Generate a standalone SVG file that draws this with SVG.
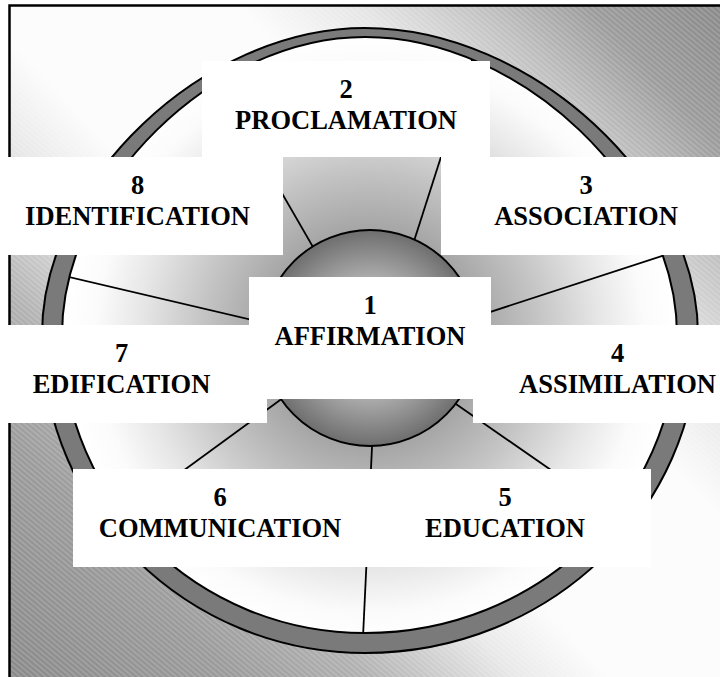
<svg xmlns="http://www.w3.org/2000/svg" width="720" height="677" viewBox="0 0 720 677">
  <style>
    .box { fill: #ffffff; }
    .lbl { font-weight: bold; font-size: 26.5px; fill: #000; text-anchor: middle; }
    .spoke { stroke: #000; stroke-width: 1.8; fill: none; }
  </style>
  <defs>
    <linearGradient id="bg" gradientUnits="userSpaceOnUse" x1="720" y1="0" x2="0" y2="677">
      <stop offset="0" stop-color="#888888"/>
      <stop offset="0.1" stop-color="#9a9a9a"/>
      <stop offset="0.18" stop-color="#c0c0c0"/>
      <stop offset="0.27" stop-color="#e5e5e5"/>
      <stop offset="0.36" stop-color="#fcfcfc"/>
      <stop offset="0.55" stop-color="#fcfcfc"/>
      <stop offset="0.62" stop-color="#e8e8e8"/>
      <stop offset="0.73" stop-color="#b0b0b0"/>
      <stop offset="0.83" stop-color="#9a9a9a"/>
      <stop offset="1" stop-color="#888888"/>
    </linearGradient>
    <pattern id="hatch" patternUnits="userSpaceOnUse" width="4" height="4" patternTransform="rotate(40)">
      <line x1="0" y1="1" x2="4" y2="1" stroke="#ffffff" stroke-opacity="0.3" stroke-width="1"/>
    </pattern>
    <radialGradient id="disk" gradientUnits="userSpaceOnUse" cx="370" cy="338" r="305">
      <stop offset="0" stop-color="#808080"/>
      <stop offset="0.36" stop-color="#a6a6a6"/>
      <stop offset="0.55" stop-color="#c4c4c4"/>
      <stop offset="0.75" stop-color="#e6e6e6"/>
      <stop offset="0.9" stop-color="#fbfbfb"/>
      <stop offset="1" stop-color="#ffffff"/>
    </radialGradient>
    <radialGradient id="sphere" gradientUnits="userSpaceOnUse" cx="370" cy="338" r="108">
      <stop offset="0" stop-color="#dcdcdc"/>
      <stop offset="0.5" stop-color="#b4b4b4"/>
      <stop offset="1" stop-color="#6e6e6e"/>
    </radialGradient>
    <path id="innerShape" d="M 62,335 C 62,186 213.5,37 365,37 C 521,37 677,186 677,335 C 677,500.5 537.3,633 365,633 C 197.7,633 62,500.5 62,335 Z"/>
    <clipPath id="innerClip">
      <use href="#innerShape"/>
    </clipPath>
  </defs>

  <!-- background frame -->
  <rect x="9.5" y="5.5" width="720" height="680" fill="url(#bg)" stroke="#000" stroke-width="2.5"/>
  <rect x="11" y="7" width="710" height="672" fill="url(#hatch)"/>

  <!-- inner disk -->
  <use id="disk-fill" href="#innerShape" fill="url(#disk)"/>

  <!-- connectors (spokes) -->
  <g id="spokes" clip-path="url(#innerClip)">
    <line class="spoke" x1="328" y1="273" x2="163" y2="-13"/>
    <line class="spoke" x1="402.5" y1="277" x2="515" y2="-74"/>
    <line class="spoke" x1="458.5" y1="322.3" x2="840" y2="198"/>
    <line class="spoke" x1="280.5" y1="326.6" x2="-102" y2="237"/>
    <line class="spoke" x1="298.6" y1="386.4" x2="1" y2="604"/>
    <line class="spoke" x1="434" y1="388.8" x2="738" y2="600"/>
    <line class="spoke" x1="373" y1="426" x2="354" y2="827"/>
  </g>

  <!-- center sphere -->
  <circle id="sphere-shape" cx="370" cy="338" r="108" fill="url(#sphere)" stroke="#000" stroke-width="2"/>

  <!-- ring -->
  <path id="ring" fill="#7a7a7a" fill-rule="evenodd" stroke="#000" stroke-width="2"
        d="M 42,335 C 42,181.5 203.5,28 365,28 C 531.5,28 698,181.5 698,335 C 698,510.6 548.9,653 365,653 C 186.6,653 42,510.6 42,335 Z
           M 62,335 C 62,186 213.5,37 365,37 C 521,37 677,186 677,335 C 677,500.5 537.3,633 365,633 C 197.7,633 62,500.5 62,335 Z"/>

  <!-- nodes -->
  <g font-family="Liberation Serif, DejaVu Serif, Times New Roman, serif">
  <g id="node2">
    <rect class="box" x="202" y="61" width="288" height="96"/>
    <text class="lbl" x="346" y="98">2</text>
    <text class="lbl" x="346" y="129">PROCLAMATION</text>
  </g>
  <g id="node8">
    <rect class="box" x="0" y="157" width="283" height="98"/>
    <text class="lbl" x="137.5" y="194">8</text>
    <text class="lbl" x="137.5" y="225">IDENTIFICATION</text>
  </g>
  <g id="node3">
    <rect class="box" x="441" y="157" width="279" height="98"/>
    <text class="lbl" x="586" y="194">3</text>
    <text class="lbl" x="586" y="225">ASSOCIATION</text>
  </g>
  <g id="node7">
    <rect class="box" x="0" y="325" width="267" height="98"/>
    <text class="lbl" x="121.5" y="362">7</text>
    <text class="lbl" x="121.5" y="393">EDIFICATION</text>
  </g>
  <g id="node4">
    <rect class="box" x="473" y="325" width="247" height="98"/>
    <text class="lbl" x="617.5" y="362">4</text>
    <text class="lbl" x="617.5" y="393">ASSIMILATION</text>
  </g>
  <g id="node1">
    <rect class="box" x="249" y="277" width="242" height="122"/>
    <text class="lbl" x="370" y="314">1</text>
    <text class="lbl" x="370" y="345">AFFIRMATION</text>
  </g>
  <g id="node6">
    <rect class="box" x="73" y="469" width="294" height="98"/>
    <text class="lbl" x="220" y="506">6</text>
    <text class="lbl" x="220" y="537">COMMUNICATION</text>
  </g>
  <g id="node5">
    <rect class="box" x="359" y="469" width="292" height="98"/>
    <text class="lbl" x="505" y="506">5</text>
    <text class="lbl" x="505" y="537">EDUCATION</text>
  </g>
  </g>
</svg>
